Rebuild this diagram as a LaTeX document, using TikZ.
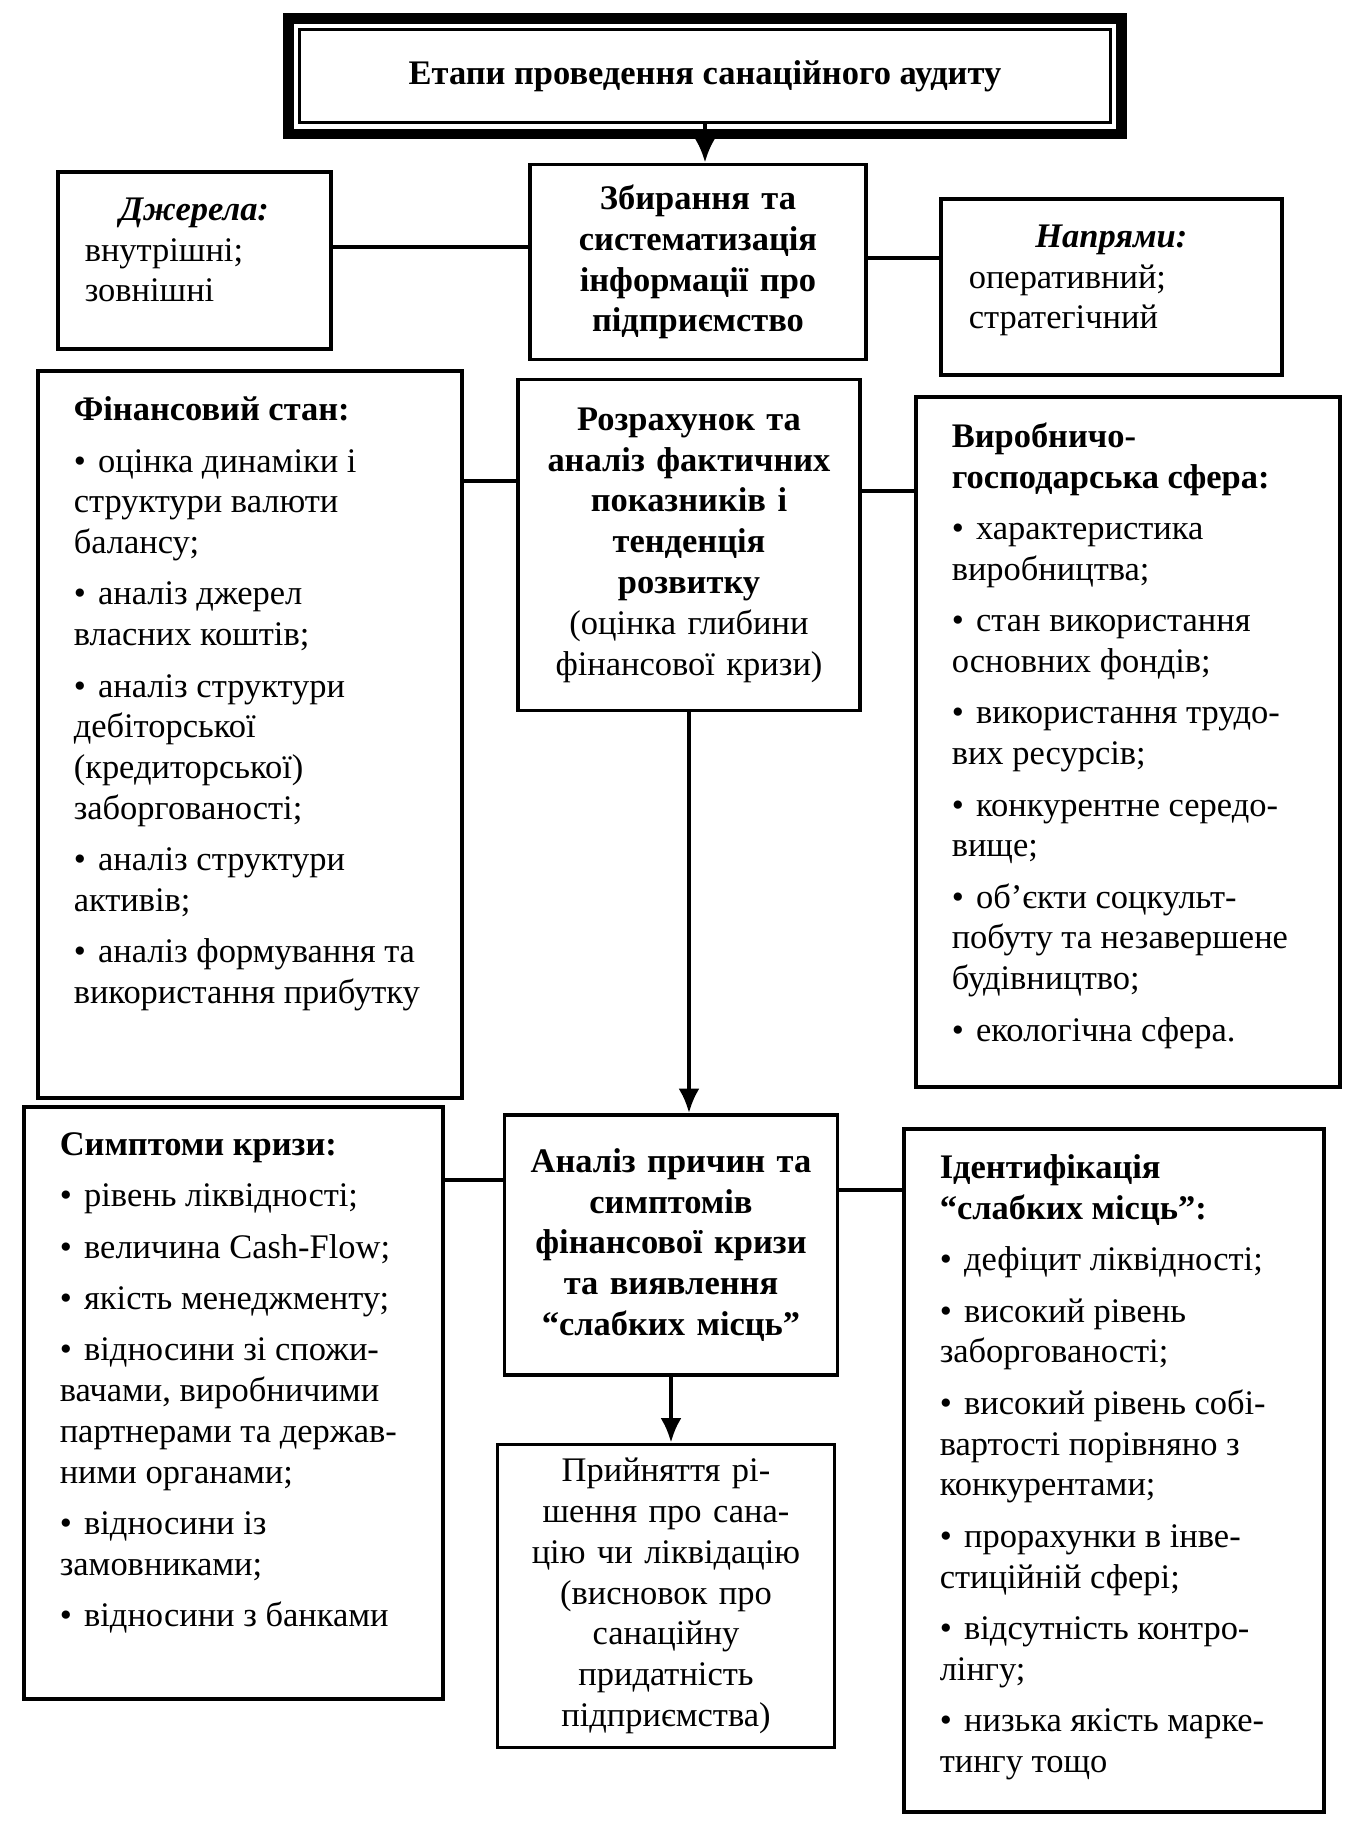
\documentclass[tikz,border=0pt]{standalone}
\usepackage{fontspec}
\setmainfont{Liberation Serif}
\usetikzlibrary{arrows.meta}
\newcommand\bul{\textbullet\hspace{3.5pt}}
\newcommand\paneltext[3]{\begin{minipage}[c][#2][t]{#1}\raggedright #3\end{minipage}}
\tikzset{
  panel/.style={draw, line width=1pt, anchor=north west, inner xsep=0.36cm, inner ysep=0.26cm},
  stage/.style={draw, line width=1pt, align=center, inner sep=0pt, font=\bfseries},
  link/.style={line width=1.1pt},
}
\begin{document}
\fontsize{9.8}{11.6}\selectfont
\begin{tikzpicture}[x=0.01cm, y=-0.01cm, >={Latex[length=7pt,width=6pt]}]
\useasboundingbox (0,0) rectangle (1350,1838);
% title
\node[draw, line width=0.8pt, minimum width=8.1cm, minimum height=0.93cm, font=\bfseries] (ttl) at (705,76) {Етапи проведення санаційного аудиту};
\draw[line width=3pt] ([xshift=-2.8pt,yshift=2.8pt]ttl.north west) rectangle ([xshift=2.8pt,yshift=-2.8pt]ttl.south east);
% centre column
\node[stage, minimum width=3.36cm, minimum height=1.95cm, text width=3.2cm] (zbyr) at (698,262) {Збирання та\\ систематизація\\ інформації про\\ підприємство};
\node[stage, minimum width=3.42cm, minimum height=3.31cm, text width=3.3cm] (rozr) at (689,545) {Розрахунок та\\ аналіз фактичних\\ показників і\\ тенденція\\ розвитку\\ \mdseries(оцінка глибини\\ фінансової кризи)};
\node[stage, minimum width=3.33cm, minimum height=2.60cm, text width=3.2cm] (anal) at (671,1245) {Аналіз причин та\\ симптомів\\ фінансової кризи\\ та виявлення\\ “слабких місць”\\[6pt]};
\node[stage, font=\mdseries, minimum width=3.37cm, minimum height=3.03cm, text width=3.2cm] (pryin) at (666,1596) {Прийняття рі-\\ шення про сана-\\ цію чи ліквідацію\\ (висновок про\\ санаційну\\ придатність\\ підприємства)};
% side panels
\node[panel, inner xsep=0.27cm] (dzh) at (56,170) {\paneltext{2.19cm}{1.25cm}{\centering\textbf{\textit{Джерела:}}\par\raggedright внутрішні;\\ зовнішні}};
\node[panel, inner xsep=0.28cm] (napr) at (939,197) {\paneltext{2.85cm}{1.24cm}{\centering\textbf{\textit{Напрями:}}\par\raggedright оперативний;\\ стратегічний}};
\node[panel] (fin) at (36,369) {\paneltext{3.52cm}{6.75cm}{\textbf{Фінансовий стан:}\\[3pt]
  \bul оцінка динаміки і\\ структури валюти\\ балансу;\\[3pt]
  \bul аналіз джерел\\ власних коштів;\\[3pt]
  \bul аналіз структури\\ дебіторської\\ (кредиторської)\\ заборгованості;\\[3pt]
  \bul аналіз структури\\ активів;\\[3pt]
  \bul аналіз формування та\\ використання прибутку}};
\node[panel] (vyr) at (914,395) {\paneltext{3.52cm}{6.38cm}{\textbf{Виробничо-}\\ \textbf{господарська сфера:}\\[3pt]
  \bul характеристика\\ виробництва;\\[3pt]
  \bul стан використання\\ основних фондів;\\[3pt]
  \bul використання трудо-\\ вих ресурсів;\\[3pt]
  \bul конкурентне середо-\\ вище;\\[3pt]
  \bul об’єкти соцкульт-\\ побуту та незавершене\\ будівництво;\\[3pt]
  \bul екологічна сфера.}};
\node[panel] (symp) at (22,1105) {\paneltext{3.47cm}{5.40cm}{\textbf{Симптоми кризи:}\\[3pt]
  \bul рівень ліквідності;\\[3pt]
  \bul величина Cash-Flow;\\[3pt]
  \bul якість менеджменту;\\[3pt]
  \bul відносини зі спожи-\\ вачами, виробничими\\ партнерами та держав-\\ ними органами;\\[3pt]
  \bul відносини із\\ замовниками;\\[3pt]
  \bul відносини з банками}};
\node[panel] (ident) at (902,1127) {\paneltext{3.48cm}{6.31cm}{\textbf{Ідентифікація}\\ \textbf{“слабких місць”:}\\[3pt]
  \bul дефіцит ліквідності;\\[3pt]
  \bul високий рівень\\ заборгованості;\\[3pt]
  \bul високий рівень собі-\\ вартості порівняно з\\ конкурентами;\\[3pt]
  \bul прорахунки в інве-\\ стиційній сфері;\\[3pt]
  \bul відсутність контро-\\ лінгу;\\[3pt]
  \bul низька якість марке-\\ тингу тощо}};
% link levels
\coordinate (row1) at (0,247);
\coordinate (row2) at (0,258);
\coordinate (row3) at (0,481);
\coordinate (row4) at (0,491);
\coordinate (row5) at (0,1180);
\coordinate (row6) at (0,1190);
\draw[link] (dzh.east |- row1) -- (zbyr.west |- row1);
\draw[link] (zbyr.east |- row2) -- (napr.west |- row2);
\draw[link] (fin.east |- row3) -- (rozr.west |- row3);
\draw[link] (rozr.east |- row4) -- (vyr.west |- row4);
\draw[link] (symp.east |- row5) -- (anal.west |- row5);
\draw[link] (anal.east |- row6) -- (ident.west |- row6);
% arrows
\draw[->, line width=1.2pt] (ttl.south) -- (ttl.south |- zbyr.north);
\draw[->, line width=1.2pt] (rozr.south) -- (rozr.south |- anal.north);
\draw[->, line width=1.2pt] (anal.south) -- (anal.south |- pryin.north);
\end{tikzpicture}
\end{document}
